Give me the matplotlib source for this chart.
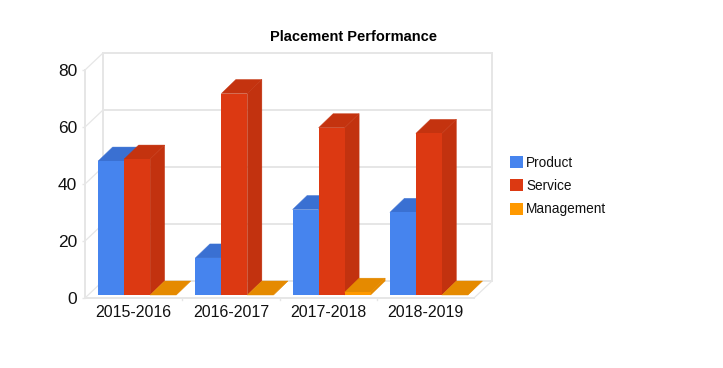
import numpy as np
from matplotlib import pyplot as plt
from matplotlib.patches import Patch, Polygon

plt.rcParams['font.family'] = ['Liberation Sans', 'DejaVu Sans']

categories = ['2015-2016', '2016-2017', '2017-2018', '2018-2019']
product = [47, 13, 30, 29]
service = [47.7, 70.7, 58.7, 56.7]
management = [0, 0, 1, 0]
y_ticks = [0, 20, 40, 60, 80]

# pixel geometry of the oblique front plane
W, H = 723, 368
LEFT, RIGHT, BOTTOM, TOP = 85, 474, 298, 70
PX_X = (RIGHT - LEFT) / len(categories)
PX_Y = (BOTTOM - TOP) / 80
GRID = '#e6e6e6'

fig = plt.figure(figsize=(W / 100, H / 100), dpi=100)
ax = fig.add_axes([LEFT / W, 1 - BOTTOM / H, (RIGHT - LEFT) / W, (BOTTOM - TOP) / H])
ax.set_xlim(0, len(categories))
ax.set_ylim(0, 80)
for spine in ax.spines.values():
    spine.set_visible(False)

# wall depth and bar depth, in data units
wall_dx, wall_dy = 18 / PX_X, 17 / PX_Y
bar_dx, bar_dy = 14.5 / PX_X, 14 / PX_Y
lift_x, lift_y = 3.5 / PX_X, 3 / PX_Y
bar_w = 26 / PX_X
n = len(categories)

# walls
for v in y_ticks:
    ax.plot([0, wall_dx], [v, v + wall_dy], color=GRID, lw=0.9, clip_on=False, zorder=1)
    ax.plot([wall_dx, n + wall_dx], [v + wall_dy, v + wall_dy],
            color=GRID, lw=1.4, clip_on=False, zorder=1)
ax.plot([wall_dx, wall_dx], [wall_dy, 80 + wall_dy], color=GRID, lw=1.4, clip_on=False, zorder=1)
ax.plot([n + wall_dx, n + wall_dx], [wall_dy, 80 + wall_dy], color=GRID, lw=1.4, clip_on=False, zorder=1)
ax.plot([0, 0], [0, 80], color=GRID, lw=1.4, clip_on=False, zorder=1)
ax.plot([0, n], [0, 0], color=GRID, lw=1.4, clip_on=False, zorder=1)
ax.plot([n, n + wall_dx], [0, wall_dy], color=GRID, lw=0.9, clip_on=False, zorder=1)


def block(x, v, front, side, top, z):
    y0 = lift_y
    y1 = lift_y + v
    ax.add_patch(Polygon([(x + bar_w, y0), (x + bar_w + bar_dx, y0 + bar_dy),
                          (x + bar_w + bar_dx, y1 + bar_dy), (x + bar_w, y1)],
                         fc=side, ec=side, lw=0.3, zorder=z, clip_on=False))
    ax.add_patch(Polygon([(x, y1), (x + bar_dx, y1 + bar_dy),
                          (x + bar_w + bar_dx, y1 + bar_dy), (x + bar_w, y1)],
                         fc=top, ec=top, lw=0.3, zorder=z, clip_on=False))
    if v > 0:
        ax.bar(x, v, bar_w, bottom=y0, align='edge', color=front, lw=0, zorder=z, clip_on=False)


series = [
    (product, '#4684ee', '#3a6fcb', '#3a70d2'),
    (service, '#dc3912', '#c2320f', '#c4330f'),
    (management, '#ff9900', '#e58a00', '#e58a00'),
]
for i in range(n):
    start = i + 0.5 - 1.5 * bar_w + lift_x
    for j, (vals, front, side, top) in enumerate(series):
        block(start + j * bar_w, vals[i], front, side, top, 3 + i * 3 + j)

ax.set_xticks(np.arange(n) + 0.5)
ax.set_xticklabels(categories, fontsize=11.5, color='#111111')
ax.set_yticks(y_ticks)
ax.set_yticklabels([str(v) for v in y_ticks], fontsize=12.5, color='#111111')
ax.tick_params(axis='x', length=0, pad=5)
ax.tick_params(axis='y', length=2, width=1, color=GRID, pad=3.5)
for x in range(1, n):
    ax.plot([x, x], [0, -2 / PX_Y], color=GRID, lw=1, clip_on=False, zorder=1)

fig.text(353 / W, 1 - 37 / H, 'Placement Performance', fontsize=10.5, fontweight='bold',
         ha='center', va='center', color='black')

handles = [Patch(fc='#4684ee', label='Product'), Patch(fc='#dc3912', label='Service'),
           Patch(fc='#ff9900', label='Management')]
fig.legend(handles=handles, loc='center left', bbox_to_anchor=(507 / W, 1 - 186 / H),
           frameon=False, fontsize=9.8, handlelength=1.0, handleheight=1.0,
           handletextpad=0.2, labelspacing=0.68, borderaxespad=0, borderpad=0.2,
           labelcolor='#111111')

fig.savefig('out.png', dpi=100)
